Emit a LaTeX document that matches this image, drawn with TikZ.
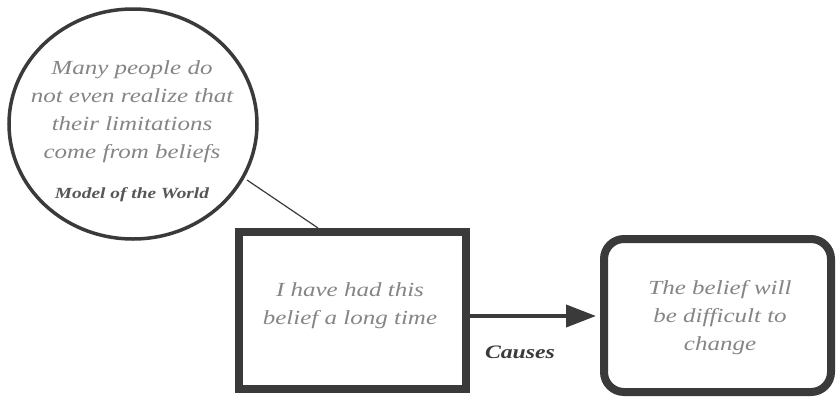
\documentclass[tikz,border=0pt]{standalone}
\usepackage{fontspec}
\setmainfont[FakeStretch=1.25]{Liberation Serif}
\usetikzlibrary{arrows.meta,shapes.geometric}
\definecolor{txt}{HTML}{858585}
\definecolor{ln}{HTML}{3A3A3A}
\tikzset{
  bodytext/.style={text=txt,font=\itshape\fontsize{20}{28}\selectfont,align=center,inner sep=0pt},
  plainbox/.style={draw=ln,line width=8pt,minimum width=227pt,minimum height=157pt},
  roundbox/.style={draw=ln,line width=8pt,rounded corners=20pt,minimum width=227pt,minimum height=153pt},
}
\begin{document}
\begin{tikzpicture}[x=1pt,y=-1pt]
\useasboundingbox (0,0) rectangle (840,399);
\node[ellipse,draw=ln,line width=3.5pt,minimum width=248pt,minimum height=230pt,inner sep=0pt] (circ) at (133,124) {};
\node[bodytext] (ctext) at (132,112) {Many people do\\not even realize that\\their limitations\\come from beliefs};
\node[text=ln!85,font=\bfseries\itshape\fontsize{15.5}{18}\selectfont,inner sep=0pt] (model) at (132,195) {Model of the World};
\node[plainbox] (b1) at (352.5,310.5) {};
\node[bodytext] (t1) at (350,306) {I have had this\\belief a long time};
\node[roundbox] (b2) at (717.5,315.5) {};
\node[bodytext] (t2) at (720,318) {The belief will\\be difficult to\\change};
\coordinate (lstart) at (247,180);
\coordinate (lend) at (318,228);
\draw[ln,line width=1.2pt] (lstart) -- (lend);
\draw[ln,line width=4pt,-{Triangle[length=30pt,width=22pt]}] (b1.east |- 0,316) -- ([xshift=-4pt]b2.west |- 0,316);
\node[text=ln,font=\bfseries\itshape\fontsize{19}{22}\selectfont,inner sep=0pt] (causes) at (520,352) {Causes};
\end{tikzpicture}
\end{document}
